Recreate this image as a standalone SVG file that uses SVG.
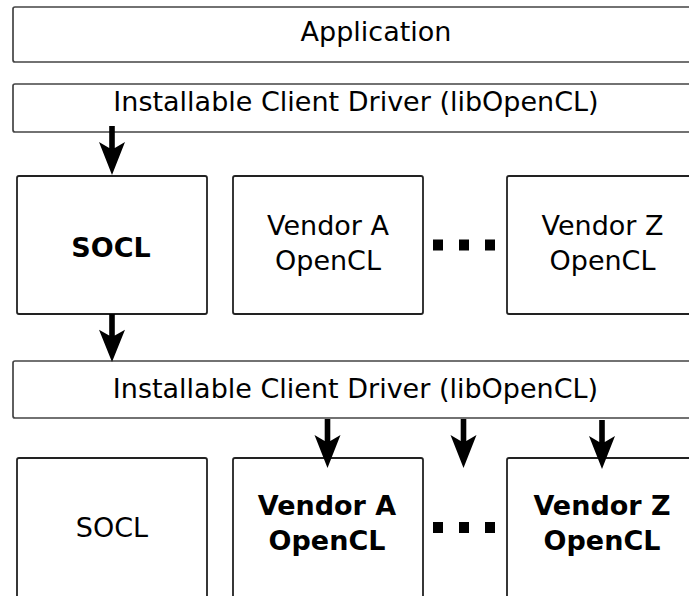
<svg xmlns="http://www.w3.org/2000/svg" width="689" height="596" viewBox="0 0 689 596">
<style>
.box{fill:#fff;stroke:#222;stroke-width:1.8}
.bar{fill:#fff;stroke:#444;stroke-width:1.7}
.t{font-family:"DejaVu Sans",sans-serif;font-size:27px;fill:#000;text-anchor:middle}
.b{font-weight:bold}
.dot{fill:#000}
.arr{fill:#000}
</style>
<defs>
<path id="ah" d="M0,0 L-13,-33 L-2.8,-27 L-2.8,-49 L2.8,-49 L2.8,-27 L13,-33 Z"/>
</defs>
<rect width="689" height="596" fill="#fff"/>
<g id="application">
<rect class="bar" x="13" y="7" width="700" height="55" rx="2"/>
<text class="t" x="376" y="41">Application</text>
</g>
<g id="icd1">
<rect class="bar" x="13" y="84" width="700" height="48" rx="2"/>
<text class="t" x="356" y="111">Installable Client Driver (libOpenCL)</text>
</g>
<g id="socl1">
<rect class="box" x="17" y="176" width="190" height="138" rx="2"/>
<text class="t b" x="111" y="257">SOCL</text>
</g>
<g id="vendorA1">
<rect class="box" x="233" y="176" width="190" height="138" rx="2"/>
<text class="t" x="328" y="235">Vendor A</text>
<text class="t" x="328" y="270">OpenCL</text>
</g>
<g id="dots1">
<rect class="dot" x="433" y="239.5" width="10" height="11"/>
<rect class="dot" x="459" y="239.5" width="10" height="11"/>
<rect class="dot" x="485" y="239.5" width="10" height="11"/>
</g>
<g id="vendorZ1">
<rect class="box" x="507" y="176" width="200" height="138" rx="2"/>
<text class="t" x="602.5" y="235">Vendor Z</text>
<text class="t" x="602.5" y="270">OpenCL</text>
</g>
<g id="icd2">
<rect class="bar" x="13" y="361" width="700" height="57" rx="2"/>
<text class="t" x="355.5" y="398">Installable Client Driver (libOpenCL)</text>
</g>
<g id="socl2">
<rect class="box" x="17" y="458" width="190" height="160" rx="2"/>
<text class="t" x="112" y="537">SOCL</text>
</g>
<g id="vendorA2">
<rect class="box" x="233" y="458" width="190" height="160" rx="2"/>
<text class="t b" x="327" y="515">Vendor A</text>
<text class="t b" x="327" y="550">OpenCL</text>
</g>
<g id="dots2">
<rect class="dot" x="433" y="522" width="10" height="11"/>
<rect class="dot" x="459" y="522" width="10" height="11"/>
<rect class="dot" x="485" y="522" width="10" height="11"/>
</g>
<g id="vendorZ2">
<rect class="box" x="507" y="458" width="200" height="160" rx="2"/>
<text class="t b" x="602" y="515">Vendor Z</text>
<text class="t b" x="602" y="550">OpenCL</text>
</g>
<g id="connectors" class="arr">
<use href="#ah" transform="translate(112,175)"/>
<use href="#ah" transform="translate(112,362) scale(1,0.98)"/>
<use href="#ah" transform="translate(327.5,468)"/>
<use href="#ah" transform="translate(463.5,468)"/>
<use href="#ah" transform="translate(602,469)"/>
</g>
</svg>
